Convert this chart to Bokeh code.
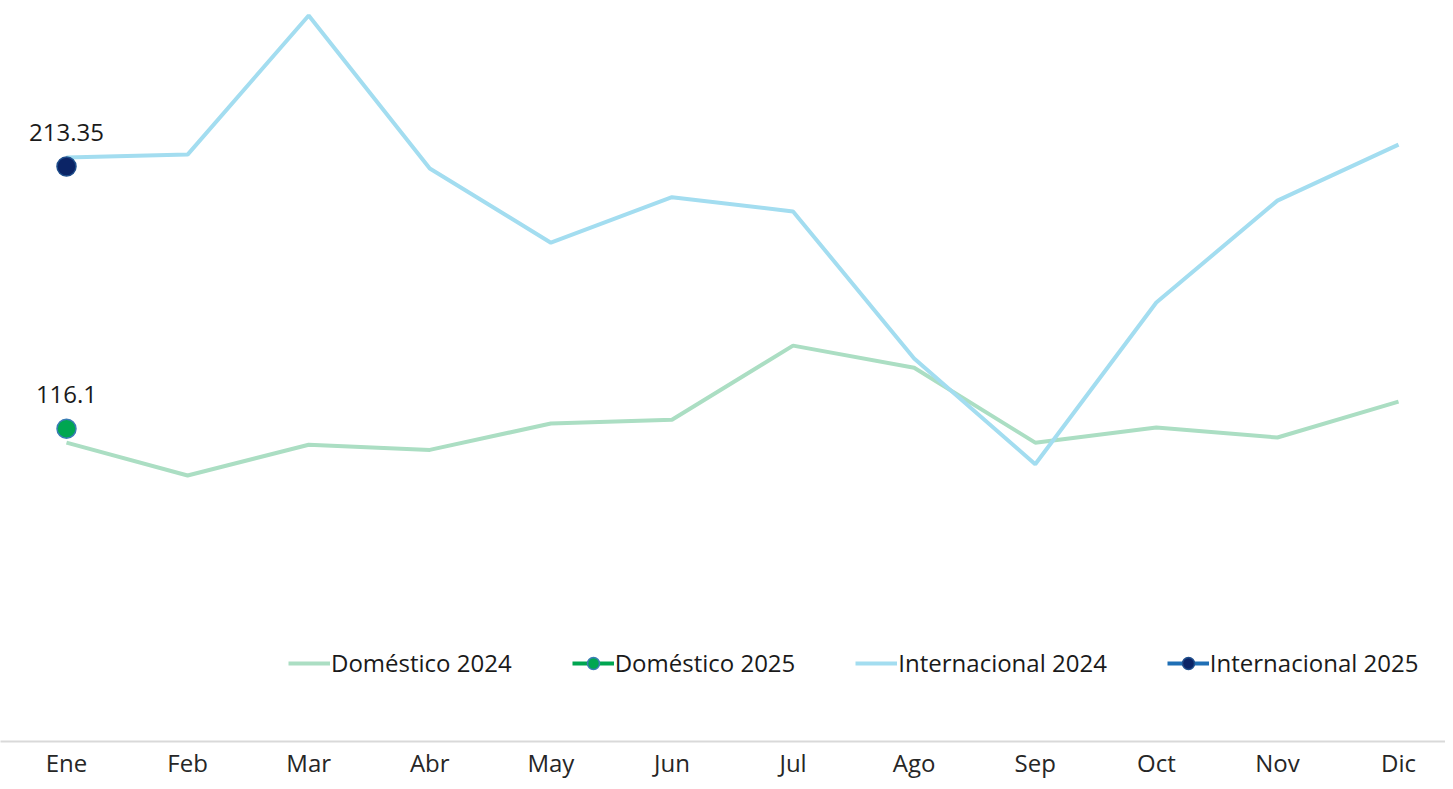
from bokeh.plotting import figure
from bokeh.models import ColumnDataSource, Range1d, FixedTicker, Legend, LegendItem
from bokeh.core.properties import value
from bokeh.embed import file_html
from bokeh.resources import INLINE

months = ["Ene", "Feb", "Mar", "Abr", "May", "Jun", "Jul", "Ago", "Sep", "Oct", "Nov", "Dic"]
dom_2024 = [110.9, 98.7, 110.1, 108.2, 118.0, 119.4, 146.9, 138.7, 110.9, 116.5, 112.8, 126.1]
int_2024 = [216.7, 217.8, 269.4, 212.6, 185.1, 202.0, 196.7, 142.1, 102.9, 162.9, 200.7, 221.5]
dom_2025 = [116.1]
int_2025 = [213.35]
dom_2025_labels = ["116.1"]
int_2025_labels = ["213.35"]

FONT = "Open Sans"
idx = list(range(len(months)))

p = figure(width=1445, height=781, output_backend="svg", toolbar_location=None,
           x_range=Range1d(-0.545, 11.388), y_range=Range1d(0, 274.97),
           y_axis_location=None, min_border_left=0, min_border_right=0,
           min_border_top=0, min_border_bottom=0)
p.outline_line_color = None
p.grid.visible = False
p.background_fill_color = "white"
p.border_fill_color = "white"

ax = p.xaxis[0]
ax.ticker = FixedTicker(ticks=idx)
ax.major_label_overrides = {i: m for i, m in zip(idx, months)}
ax.major_tick_line_color = None
ax.minor_tick_line_color = None
ax.major_tick_out = 0
ax.major_tick_in = 0
ax.axis_line_color = "#D9D9D9"
ax.axis_line_width = 2
ax.major_label_text_font = FONT
ax.major_label_text_font_size = "24px"
ax.major_label_text_color = "#262626"
ax.major_label_standoff = 4

s_dom24 = ColumnDataSource(dict(x=idx, y=dom_2024))
s_int24 = ColumnDataSource(dict(x=idx, y=int_2024))
s_dom25 = ColumnDataSource(dict(x=idx[:len(dom_2025)], y=dom_2025, t=dom_2025_labels))
s_int25 = ColumnDataSource(dict(x=idx[:len(int_2025)], y=int_2025, t=int_2025_labels))

r_dom24 = p.line("x", "y", source=s_dom24, line_color="#ABDEC3", line_width=4)
r_int24 = p.line("x", "y", source=s_int24, line_color="#A3DDF0", line_width=4)

r_dom25_l = p.line("x", "y", source=s_dom25, line_color="#00A651", line_width=4)
r_dom25_m = p.scatter("x", "y", source=s_dom25, size=19, marker="circle",
                      fill_color="#00A651", line_color="#3A7DB5", line_width=1.5)
r_int25_l = p.line("x", "y", source=s_int25, line_color="#1F6FB5", line_width=4)
r_int25_m = p.scatter("x", "y", source=s_int25, size=19, marker="circle",
                      fill_color="#0B2466", line_color="#1F4E8C", line_width=1.5)

for src in (s_dom25, s_int25):
    p.text("x", "y", text="t", source=src, text_font=value(FONT), text_font_size="24px",
           text_align="center", text_baseline="alphabetic", y_offset=-34,
           text_color="#1a1a1a")

legend = Legend(items=[
    LegendItem(label="Doméstico 2024", renderers=[r_dom24]),
    LegendItem(label="Doméstico 2025", renderers=[r_dom25_l, r_dom25_m]),
    LegendItem(label="Internacional 2024", renderers=[r_int24]),
    LegendItem(label="Internacional 2025", renderers=[r_int25_l, r_int25_m]),
], orientation="horizontal", location=(288, 62))
legend.background_fill_alpha = 0
legend.border_line_color = None
legend.padding = 0
legend.margin = 0
legend.spacing = 60
legend.glyph_width = 42
legend.glyph_height = 30
legend.label_height = 30
legend.label_standoff = 1
legend.label_text_font = FONT
legend.label_text_font_size = "24px"
legend.label_text_color = "#1a1a1a"
p.add_layout(legend, "center")

open("out.html", "w").write(file_html(p, INLINE))
